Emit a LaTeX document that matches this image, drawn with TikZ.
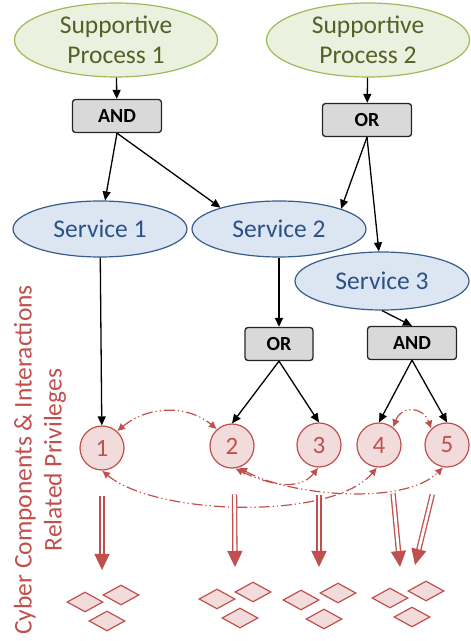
\documentclass[tikz,border=0pt]{standalone}
\usepackage{fontspec}
\setmainfont{Carlito}
\usetikzlibrary{arrows.meta,shapes.geometric}

\definecolor{procfill}{HTML}{EBF1DE}
\definecolor{procline}{HTML}{9BBB59}
\definecolor{proctext}{HTML}{4F6228}
\definecolor{servfill}{HTML}{DCE6F2}
\definecolor{servline}{HTML}{385D8A}
\definecolor{servtext}{HTML}{2A5286}
\definecolor{gatefill}{HTML}{D9D9D9}
\definecolor{compred}{HTML}{C0504D}
\definecolor{compfill}{HTML}{F2DCDB}

\begin{document}
\begin{tikzpicture}[x=1pt,y=1pt,
    supproc/.style={ellipse, draw=procline, fill=procfill, text=proctext, line width=1.2pt,
        minimum width=203pt, minimum height=74pt, inner xsep=0pt, inner ysep=-4pt,
        align=center, font=\fontsize{25.5}{30}\selectfont},
    servnode/.style={ellipse, draw=servline, fill=servfill, text=servtext, line width=1.2pt,
        minimum width=174pt, minimum height=56pt, inner sep=0pt, font=\fontsize{25.5}{30}\selectfont},
    gatebox/.style={rectangle, rounded corners=3pt, draw=black!85, fill=gatefill, line width=1.3pt,
        minimum height=33pt, inner sep=0pt, font=\fontsize{20}{24}\selectfont\bfseries},
    compnode/.style={circle, draw=compred, fill=compfill, text=compred, line width=1.2pt,
        minimum size=44pt, inner sep=0pt, font=\fontsize{25}{30}\selectfont},
    privbox/.style={diamond, draw=compred, fill=compfill, line width=1.2pt,
        minimum width=36pt, minimum height=20pt, inner sep=0pt},
    deparrow/.style={-{Triangle[length=9pt,width=8pt]}, line width=1.3pt, black},
    interarrow/.style={{Latex[length=8pt,width=8pt]}-{Latex[length=8pt,width=8pt]}, compred, line width=1.2pt,
        dash pattern=on 11pt off 3pt on 1.2pt off 3pt on 1.2pt off 3pt},
    privarrow/.style={-{Triangle[length=16pt,width=15pt]}, compred, line width=1.3pt,
        double=white, double distance=2.8pt}]

    \useasboundingbox (0,0) rectangle (471,641);

    % processes, gates and services
    \node[supproc] (sp1) at (116,601) {Supportive\\Process 1};
    \node[supproc] (sp2) at (368,601) {Supportive\\Process 2};

    \node[gatebox, minimum width=89pt] (and1) at (117,525) {AND};
    \node[gatebox, minimum width=89pt] (or1) at (367,521) {OR};

    \node[servnode] (s1) at (100,412) {Service 1};
    \node[servnode] (s2) at (279,412) {Service 2};
    \node[servnode, minimum height=58pt] (s3) at (382,360) {Service 3};

    \node[gatebox, minimum width=68pt] (or2) at (279,297) {OR};
    \node[gatebox, minimum width=89pt] (and2) at (412,298) {AND};

    % components
    \node[compnode] (c1) at (102,193) {1};
    \node[compnode] (c2) at (232,195) {2};
    \node[compnode] (c3) at (319,196) {3};
    \node[compnode] (c4) at (379,196) {4};
    \node[compnode] (c5) at (447,196) {5};

    % privileges
    \node[privbox] (p11) at (85,39) {};
    \node[privbox] (p12) at (121,46) {};
    \node[privbox] (p13) at (107,20) {};
    \node[privbox] (p21) at (217,42) {};
    \node[privbox] (p22) at (253,49) {};
    \node[privbox] (p23) at (240,23) {};
    \node[privbox] (p31) at (301,41) {};
    \node[privbox] (p32) at (338,48) {};
    \node[privbox] (p33) at (324,22) {};
    \node[privbox] (p41) at (390,43) {};
    \node[privbox] (p42) at (426,50) {};
    \node[privbox] (p43) at (412,24) {};

    \coordinate (t1) at (102,71);
    \coordinate (t2) at (235,74);
    \coordinate (t3) at (319,74);
    \coordinate (t4) at (400,74);
    \coordinate (t5) at (415,76);

    \node[rotate=90, align=center, text=compred, font=\fontsize{25.5}{30}\selectfont] (lbl) at (40,181)
        {Cyber Components \& Interactions\\Related Privileges};

    % dependencies
    \draw[deparrow] (sp1) -- (and1);
    \draw[deparrow] (sp2) -- (or1);
    \draw[deparrow] (and1.south) -- (s1);
    \draw[deparrow] (and1.south) -- (s2.160);
    \draw[deparrow] (or1.south) -- (s2.18);
    \draw[deparrow] (or1.south) -- (s3);
    \draw[deparrow] (s1) -- (c1);
    \draw[deparrow] (s2) -- (or2);
    \draw[deparrow] (s3.south) -- (and2.north);
    \draw[deparrow] (or2.south) -- (c2.north);
    \draw[deparrow] (or2.south) -- (c3.north);
    \draw[deparrow] (and2.south) -- (c4.north);
    \draw[deparrow] (and2.south) -- (c5.north);

    % interactions
    \draw[interarrow] (c1.48) to[out=40,in=140] (c2.132);
    \draw[interarrow] (c4.51) to[out=70,in=110,looseness=1.6] (c5.134);
    \draw[interarrow] (c1.-90) to[out=-40,in=-130,looseness=0.65] (c4.-95);
    \draw[interarrow] (c2.-82) to[out=-26,in=-128] (c3.-92);
    \draw[interarrow] (c2.-72) to[out=-30,in=-135,looseness=0.7] (c5.-100);

    % privileges arrows
    \draw[privarrow, shorten <=25pt] (c1.south) -- (t1);
    \draw[privarrow, shorten <=26pt] (c2.-84) -- (t2);
    \draw[privarrow, shorten <=27pt] (c3.south) -- (t3);
    \draw[privarrow, shorten <=29pt] (c4.-60) -- (t4);
    \draw[privarrow, shorten <=29pt] (c5.-110) -- (t5);
\end{tikzpicture}
\end{document}
